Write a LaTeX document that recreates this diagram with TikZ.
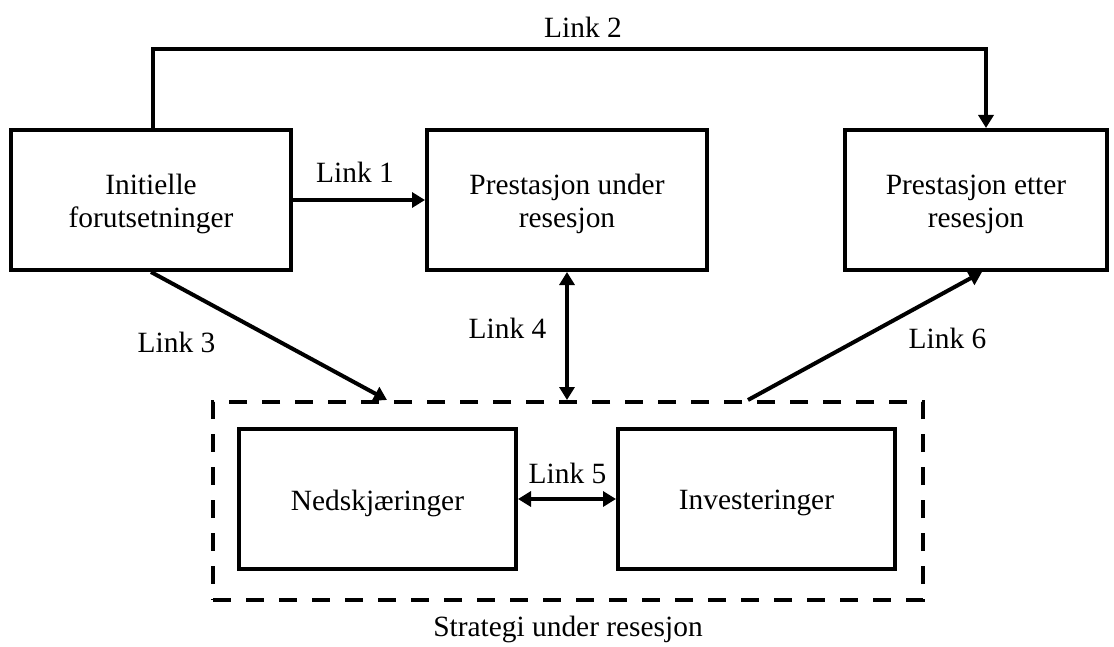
\documentclass[tikz,border=0pt]{standalone}
\usepackage{fontspec}
\setmainfont{Liberation Serif}
\usetikzlibrary{arrows.meta}
\begin{document}
\begin{tikzpicture}[x=0.5pt,y=-0.5pt,
  txt/.style={font=\fontsize{14.7}{16.5}\selectfont,align=center,inner sep=0pt},
  box/.style={draw,line width=2pt,inner sep=0pt},
  tbox/.style={box,label={[txt,yshift=-2pt]center:#1}},
  groupbox/.style={draw,line width=2pt,dash pattern=on 9pt off 7.5pt,inner sep=0pt},
  lbl/.style={font=\fontsize{14.7}{16.5}\selectfont,inner sep=0pt,anchor=base},
  arr/.style={line width=2pt,-{Triangle[length=6.5pt,width=7.5pt]}},
  darr/.style={line width=2pt,{Triangle[length=6.5pt,width=7.5pt]}-{Triangle[length=6.5pt,width=7.5pt]}}]
  \useasboundingbox (0,0) rectangle (1114,647);
  % main boxes
  \node[tbox={Initielle\\forutsetninger},minimum width=140pt,minimum height=70pt] (init) at (151,200) {};
  \node[tbox={Prestasjon under\\resesjon},minimum width=140pt,minimum height=70pt] (under) at (567,200) {};
  \node[tbox={Prestasjon etter\\resesjon},minimum width=131pt,minimum height=70pt] (etter) at (976,200) {};
  % strategy group
  \node[groupbox,minimum width=355pt,minimum height=99pt] (strat) at (568,501) {};
  \node[tbox={Nedskjæringer},minimum width=138.5pt,minimum height=70pt] (ned) at (377.5,499) {};
  \node[tbox={Investeringer},minimum width=138.5pt,minimum height=70pt] (inv) at (756.5,499) {};
  \node[lbl] (cap) at (568,636) {Strategi under resesjon};
  % connectors
  \coordinate (top) at (570,49);
  \draw[arr,line join=miter] ([xshift=1pt]init.north) |- (top) -| ([xshift=5pt]etter.north);
  \draw[arr] (init.east) -- (under.west);
  \draw[arr] (init.south) -- ([xshift=-90.5pt]strat.north);
  \draw[darr] (under.south) -- (under.south |- strat.north);
  \draw[darr] (ned.east) -- (inv.west);
  \draw[arr] ([xshift=90pt]strat.north) -- ([xshift=3pt]etter.south);
  % link labels
  \node[lbl] (l1) at (355,183) {Link 1};
  \node[lbl] (l2) at (583,38) {Link 2};
  \node[lbl] (l3) at (176.5,352) {Link 3};
  \node[lbl] (l4) at (507.5,338) {Link 4};
  \node[lbl] (l5) at (567.5,483) {Link 5};
  \node[lbl] (l6) at (947.5,348) {Link 6};
\end{tikzpicture}
\end{document}
